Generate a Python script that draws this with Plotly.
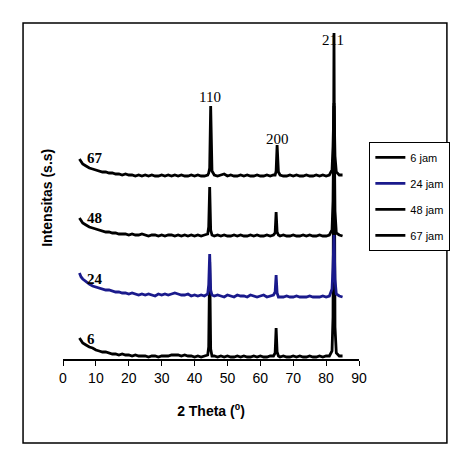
import plotly.graph_objects as go

# 2 Theta grid (degrees), shared by all four patterns
two_theta = [5, 5.5, 6, 7, 8, 9, 10, 11, 12, 13, 14, 15, 16, 17, 18, 19, 20, 21, 22, 23,
             24, 25, 26, 27, 28, 29, 30, 31, 32, 33, 34, 35, 36, 37, 38, 39, 40, 41, 42, 43,
             44.0, 44.3, 44.6, 44.9, 45.3,
             46, 47, 48, 49, 50, 51, 52, 53, 54, 55, 56, 57, 58, 59, 60, 61, 62, 63, 64,
             64.5, 64.8, 65.1, 65.5,
             66, 67, 68, 69, 70, 71, 72, 73, 74, 75, 76, 77, 78, 79, 80, 81,
             81.8, 82.1, 82.4, 82.7, 83.1,
             84, 85]

# intensities (arbitrary units)
i_6 = [19, 16, 14, 12, 10, 9, 7, 6, 5, 5, 4, 3, 3, 2, 3, 2, 2, 1, 2, 1,
       1, 1, 0, 1, 1, 0, 1, 1, 1, 2, 2, 2, 1, 2, 1, 1, 0, 1, 0, 1,
       2, 10, 95, 8, 1,
       1, 0, 1, 0, 1, 0, 0, 1, 0, 1, 0, 0, 1, 0, 1, 0, 0, 1, 1,
       4, 29, 5, 1,
       0, 1, 0, 0, 1, 0, 1, 0, 0, 1, 0, 0, 1, 0, 1, 1,
       6, 40, 324, 30, 4,
       1, 1]
i_24 = [24, 20, 18, 15, 13, 11, 10, 9, 8, 7, 7, 6, 5, 5, 4, 4, 3, 4, 3, 2,
        3, 2, 3, 2, 1, 3, 2, 3, 2, 3, 4, 3, 2, 2, 3, 1, 2, 1, 2, 1,
        3, 12, 43, 7, 2,
        1, 2, 1, 0, 2, 1, 0, 2, 1, 1, 0, 2, 1, 0, 1, 2, 0, 1, 2,
        5, 22, 4, 0,
        0, 0, 1, 0, 0, 1, 0, 0, 0, 1, 0, 0, 0, 1, 0, 1,
        8, 30, 62, 18, 3,
        1, 0]
i_48 = [18, 15, 13, 11, 9, 8, 7, 6, 5, 4, 4, 3, 3, 2, 2, 2, 1, 2, 1, 1,
        2, 1, 0, 1, 1, 0, 1, 0, 1, 1, 0, 1, 0, 1, 0, 1, 0, 1, 0, 1,
        2, 9, 49, 6, 1,
        0, 1, 0, 1, 0, 0, 1, 0, 1, 0, 0, 1, 0, 1, 0, 0, 1, 0, 1,
        3, 24, 4, 1,
        0, 1, 0, 0, 1, 0, 0, 1, 0, 1, 0, 0, 1, 0, 0, 1,
        6, 35, 130, 25, 3,
        1, 0]
i_67 = [17, 14, 12, 10, 8, 7, 6, 5, 4, 4, 3, 3, 2, 2, 1, 2, 1, 1, 0, 1,
        0, 1, 0, 1, 0, 0, 1, 0, 1, 0, 1, 0, 1, 0, 0, 1, 0, 1, 0, 0,
        1, 3, 8, 70, 5,
        1, 0, 1, 2, 0, 1, 0, 0, 1, 0, 1, 0, 0, 1, 0, 0, 1, 0, 1,
        1, 5, 31, 4,
        1, 0, 0, 1, 0, 1, 0, 0, 1, 0, 0, 1, 0, 1, 0, 1,
        6, 30, 73, 20, 4,
        1, 1]

series_names = ["6 jam", "24 jam", "48 jam", "67 jam"]
series_labels = ["6", "24", "48", "67"]
series_values = [i_6, i_24, i_48, i_67]
stack_offsets = [2, 62, 123, 183]
series_colors = ["#000000", "#1a1a8c", "#000000", "#000000"]

peak_labels = ["110", "200", "211"]
peak_pos = [44.7, 65.2, 82.0]
peak_label_y = [262, 220, 319]

narrow = "Liberation Sans Narrow, Arial Narrow, Liberation Sans, Arial"
serif = "Liberation Serif, Times New Roman, serif"

fig = go.Figure()
for name, vals, off, col in zip(series_names, series_values, stack_offsets, series_colors):
    fig.add_trace(go.Scatter(
        x=two_theta,
        y=[v + off for v in vals],
        mode="lines",
        name=name,
        legendgroup=name,
        line=dict(color=col, width=2.8),
        hoverinfo="skip",
    ))

# hkl labels above the peaks
for txt, px, py in zip(peak_labels, peak_pos, peak_label_y):
    fig.add_annotation(x=px, y=py, text=txt, showarrow=False,
                       font=dict(family=serif, size=15, color="black"),
                       yanchor="middle")

# series labels at the left of each pattern
for txt, off in zip(series_labels, stack_offsets):
    fig.add_annotation(x=9.7 if txt != "6" else 8.5, y=off + 18, text="<b>%s</b>" % txt,
                       showarrow=False, font=dict(family=serif, size=15, color="black"),
                       yanchor="middle")

# y title as annotation (y axis itself is hidden)
fig.add_annotation(xref="paper", yref="paper", x=-0.054, y=0.49,
                   xanchor="center", yanchor="middle",
                   text="<b>Intensitas (s.s)</b>", textangle=-90, showarrow=False,
                   font=dict(family="Liberation Sans, Arial", size=14, color="black"))

# outer frame
fig.add_shape(type="rect", xref="paper", yref="paper",
              x0=-0.135, x1=1.297, y0=-0.255, y1=1.021,
              line=dict(color="black", width=1.5))

fig.update_layout(
    width=471, height=469,
    margin=dict(l=63, r=112, t=30, b=110),
    paper_bgcolor="white",
    plot_bgcolor="white",
    showlegend=True,
    legend=dict(
        x=1.035, y=0.66, xanchor="left", yanchor="top",
        bordercolor="black", borderwidth=1, bgcolor="white",
        font=dict(family=narrow, size=11, color="black"),
        tracegroupgap=7, itemwidth=30,
    ),
    xaxis=dict(
        range=[0, 90], dtick=10, tick0=0,
        showgrid=False, zeroline=False,
        showline=True, linecolor="black", linewidth=1.5,
        ticks="outside", ticklen=5, tickcolor="black",
        tickfont=dict(family=narrow, size=14, color="black"),
        title=dict(text="<b>2 Theta (<sup>0</sup>)</b>", standoff=22,
                   font=dict(family=narrow, size=14, color="black")),
    ),
    yaxis=dict(range=[0, 329], visible=False, showgrid=False, zeroline=False),
)

# drop the browser's default page margin so the figure sits at the window origin
fig.write_html("out.html", config={"displayModeBar": False},
               post_script="document.body.style.margin='0';")
